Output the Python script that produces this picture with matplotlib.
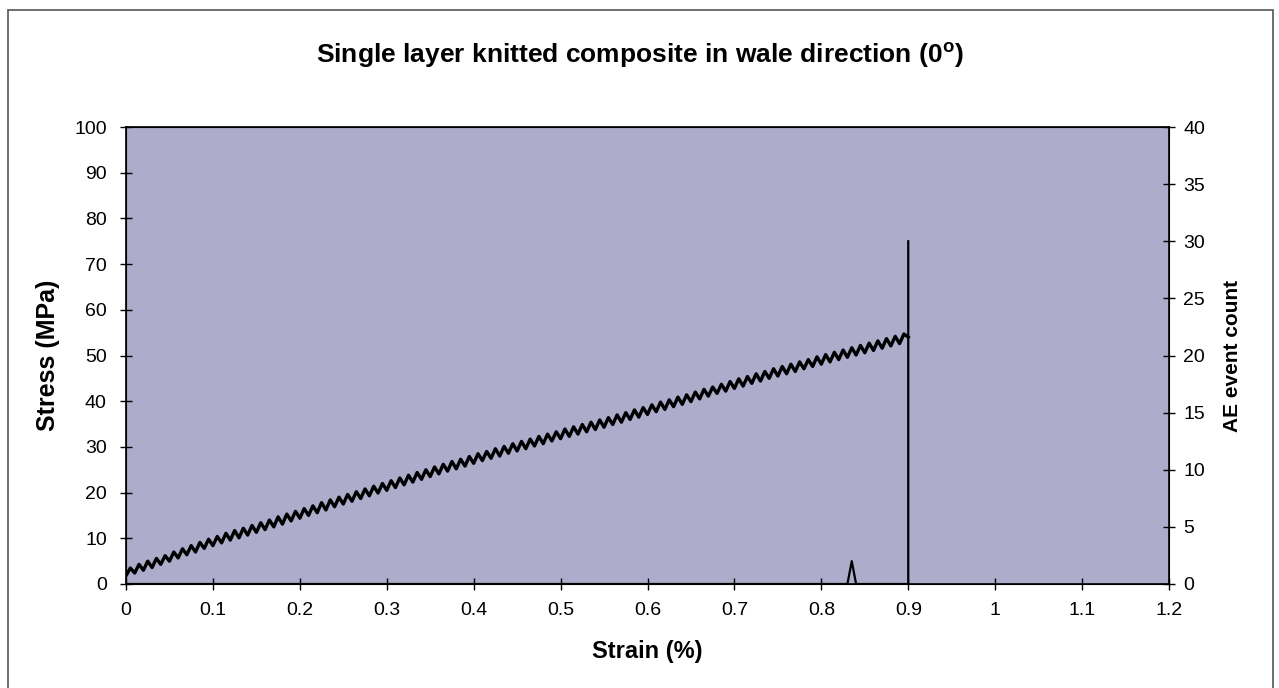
import numpy as np
import matplotlib
matplotlib.use("Agg")
import matplotlib.pyplot as plt
from matplotlib.patches import Rectangle

plt.rcParams['font.family'] = ['Liberation Sans', 'DejaVu Sans']

# stress readings, one every 0.005 % strain from 0 to 0.9
stress = [
    1.8, 3.5, 2.4, 4.3, 3.0, 5.0, 3.6, 5.6, 4.3, 6.2,
    5.0, 7.0, 5.7, 7.7, 6.4, 8.4, 7.0, 9.1, 7.8, 9.8,
    8.4, 10.4, 9.0, 11.1, 9.6, 11.7, 10.1, 12.2, 10.7, 12.8,
    11.3, 13.4, 11.9, 14.0, 12.5, 14.7, 13.1, 15.3, 13.8, 15.9,
    14.4, 16.5, 15.0, 17.1, 15.6, 17.8, 16.2, 18.4, 16.9, 19.0,
    17.5, 19.6, 18.1, 20.2, 18.7, 20.8, 19.3, 21.4, 19.9, 22.0,
    20.5, 22.6, 21.1, 23.2, 21.7, 23.8, 22.3, 24.4, 22.9, 25.0,
    23.5, 25.6, 24.1, 26.2, 24.7, 26.8, 25.2, 27.3, 25.8, 27.9,
    26.4, 28.5, 27.0, 29.0, 27.5, 29.6, 28.0, 30.1, 28.6, 30.7,
    29.1, 31.2, 29.6, 31.7, 30.2, 32.3, 30.7, 32.8, 31.3, 33.3,
    31.8, 33.9, 32.3, 34.4, 32.8, 34.9, 33.3, 35.4, 33.8, 35.9,
    34.3, 36.4, 34.9, 37.0, 35.4, 37.5, 36.0, 38.1, 36.5, 38.6,
    37.1, 39.2, 37.7, 39.8, 38.2, 40.3, 38.8, 40.9, 39.3, 41.4,
    39.9, 42.0, 40.5, 42.6, 41.1, 43.1, 41.7, 43.7, 42.2, 44.3,
    42.8, 44.9, 43.3, 45.4, 43.9, 46.0, 44.4, 46.5, 45.0, 47.1,
    45.5, 47.6, 46.0, 48.1, 46.5, 48.6, 47.1, 49.1, 47.6, 49.7,
    48.1, 50.2, 48.6, 50.7, 49.1, 51.2, 49.6, 51.7, 50.1, 52.2,
    50.6, 52.7, 51.1, 53.2, 51.6, 53.7, 52.1, 54.2, 52.6, 54.7,
    54.0,
]
strain = np.arange(len(stress)) * 0.005

# AE events (right axis)
ae_strain = [0.0, 0.83, 0.835, 0.84, 0.9, 0.9]
ae_count = [0, 0, 2, 0, 0, 30]

x_ticks = [0, 0.1, 0.2, 0.3, 0.4, 0.5, 0.6, 0.7, 0.8, 0.9, 1, 1.1, 1.2]
x_labels = ['0', '0.1', '0.2', '0.3', '0.4', '0.5', '0.6', '0.7', '0.8', '0.9', '1', '1.1', '1.2']

fig = plt.figure(figsize=(12.79, 6.88), dpi=100)
fig.patch.set_facecolor('white')
fig.patches.append(Rectangle((8/1279, -0.01), 1265/1279, 0.995, transform=fig.transFigure,
                             fill=False, edgecolor='#555555', linewidth=1.2))

ax = fig.add_axes([126/1279, (688-584)/688, (1169-126)/1279, (584-127)/688])
ax.set_facecolor('#adaccb')
ax.plot(strain, stress, color='black', linewidth=2.4)
ax.set_xlim(0, 1.2)
ax.set_ylim(0, 100)
ax.set_yticks(range(0, 101, 10))
ax.set_xticks(x_ticks)
ax.set_xticklabels(x_labels)
ax.tick_params(direction='inout', length=8.6, width=1, labelsize=14, pad=9.5)
ax.tick_params(axis='x', pad=9)
ax.set_xlabel('Strain (%)', fontsize=17, fontweight='bold')
ax.set_ylabel('Stress (MPa)', fontsize=18, fontweight='bold')
ax.xaxis.set_label_coords(0.5, -0.1225)
ax.yaxis.set_label_coords(-0.063, 0.5)
for s in ax.spines.values():
    s.set_linewidth(1.2)

ax2 = ax.twinx()
ax2.plot(ae_strain, ae_count, color='black', linewidth=1.6)
ax2.set_ylim(0, 40)
ax2.set_yticks(range(0, 41, 5))
ax2.tick_params(direction='inout', length=8.6, width=1, labelsize=14, pad=6)
ax2.set_ylabel('AE event count', fontsize=15, fontweight='bold')
ax2.yaxis.set_label_coords(1.0518, 0.5)

fig.text(0.5, 0.92, r'Single layer knitted composite in wale direction (0$^{\mathregular{o}}$)',
         ha='center', va='center', fontsize=19, fontweight='bold')

fig.savefig('out.png', dpi=100, facecolor='white')
